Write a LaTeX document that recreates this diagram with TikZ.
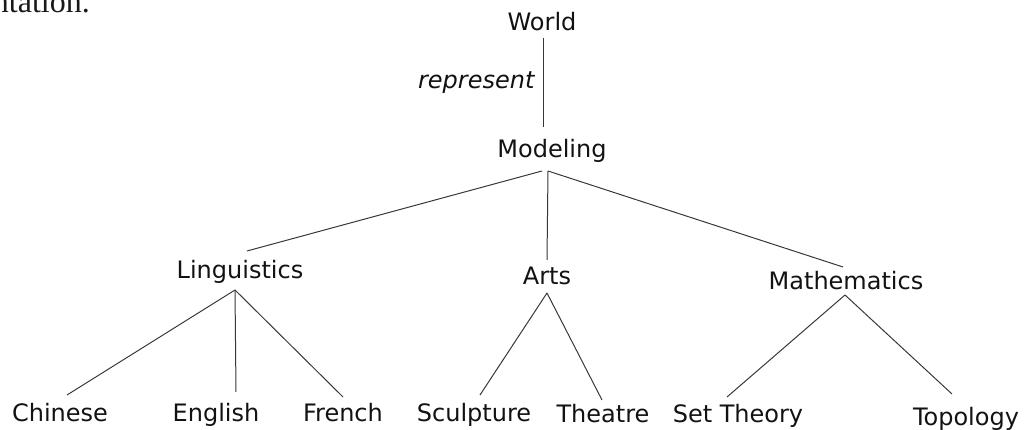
\documentclass[tikz,border=0pt]{standalone}
\usepackage{fontspec}
\setmainfont{DejaVu Sans}
\newfontfamily\fragfont{Liberation Serif}
\usetikzlibrary{calc}
\begin{document}
\begin{tikzpicture}[x=1pt,y=-1pt,
  lbl/.style={anchor=base,inner sep=0pt,text=black!93,font=\fontsize{24}{28}\selectfont},
  edge/.style={line width=1pt,draw=black!78}]
\useasboundingbox (0,0) rectangle (1029,430);
\begin{scope}
\clip (0,0) rectangle (1029,430);
\node[anchor=base east,inner sep=0pt,font=\fragfont\fontsize{32}{36}\selectfont,text=black!90] (frag) at (90,13) {ntation.};
\end{scope}
% nodes
\node[lbl] (world) at (542,31) {World};
\node[lbl] (modeling) at (552,158) {Modeling};
\node[lbl] (ling) at (240,279) {Linguistics};
\node[lbl] (arts) at (547,285) {Arts};
\node[lbl] (math) at (846,290) {Mathematics};
\node[lbl] (chinese) at (60,422) {Chinese};
\node[lbl] (english) at (216,422) {English};
\node[lbl] (french) at (343,422) {French};
\node[lbl] (sculpture) at (474,422) {Sculpture};
\node[lbl] (theatre) at (603,423) {Theatre};
\node[lbl] (settheory) at (738,423) {Set Theory};
\node[lbl] (topology) at (966,425) {Topology};
% connectors
\draw[edge] ($(world.base)+(1,7)$) -- node[pos=0.562,anchor=base east,inner sep=0pt,xshift=-8pt,text=black!93,font=\fontsize{24}{28}\selectfont\itshape] (represent) {represent} ($(modeling.base)+(-9,-31)$);
\draw[edge] ($(modeling.base)+(-10,13)$) -- ($(ling.base)+(7,-28)$);
\draw[edge] ($(modeling.base)+(-4,13)$) -- ($(arts.base)+(0,-25)$);
\draw[edge] ($(modeling.base)+(-4,13)$) -- ($(math.base)+(-3,-23)$);
\draw[edge] ($(ling.base)+(-5,11)$) -- ($(chinese.base)+(7,-27)$);
\draw[edge] ($(ling.base)+(-5,11)$) -- ($(english.base)+(20,-30)$);
\draw[edge] ($(ling.base)+(-5,11)$) -- ($(french.base)+(0,-25)$);
\draw[edge] ($(arts.base)+(0,8)$) -- ($(sculpture.base)+(6,-27)$);
\draw[edge] ($(arts.base)+(0,8)$) -- ($(theatre.base)+(-1,-23)$);
\draw[edge] ($(math.base)+(-1,5)$) -- ($(settheory.base)+(-11,-26)$);
\draw[edge] ($(math.base)+(-1,5)$) -- ($(topology.base)+(-14,-31)$);
\end{tikzpicture}
\end{document}
